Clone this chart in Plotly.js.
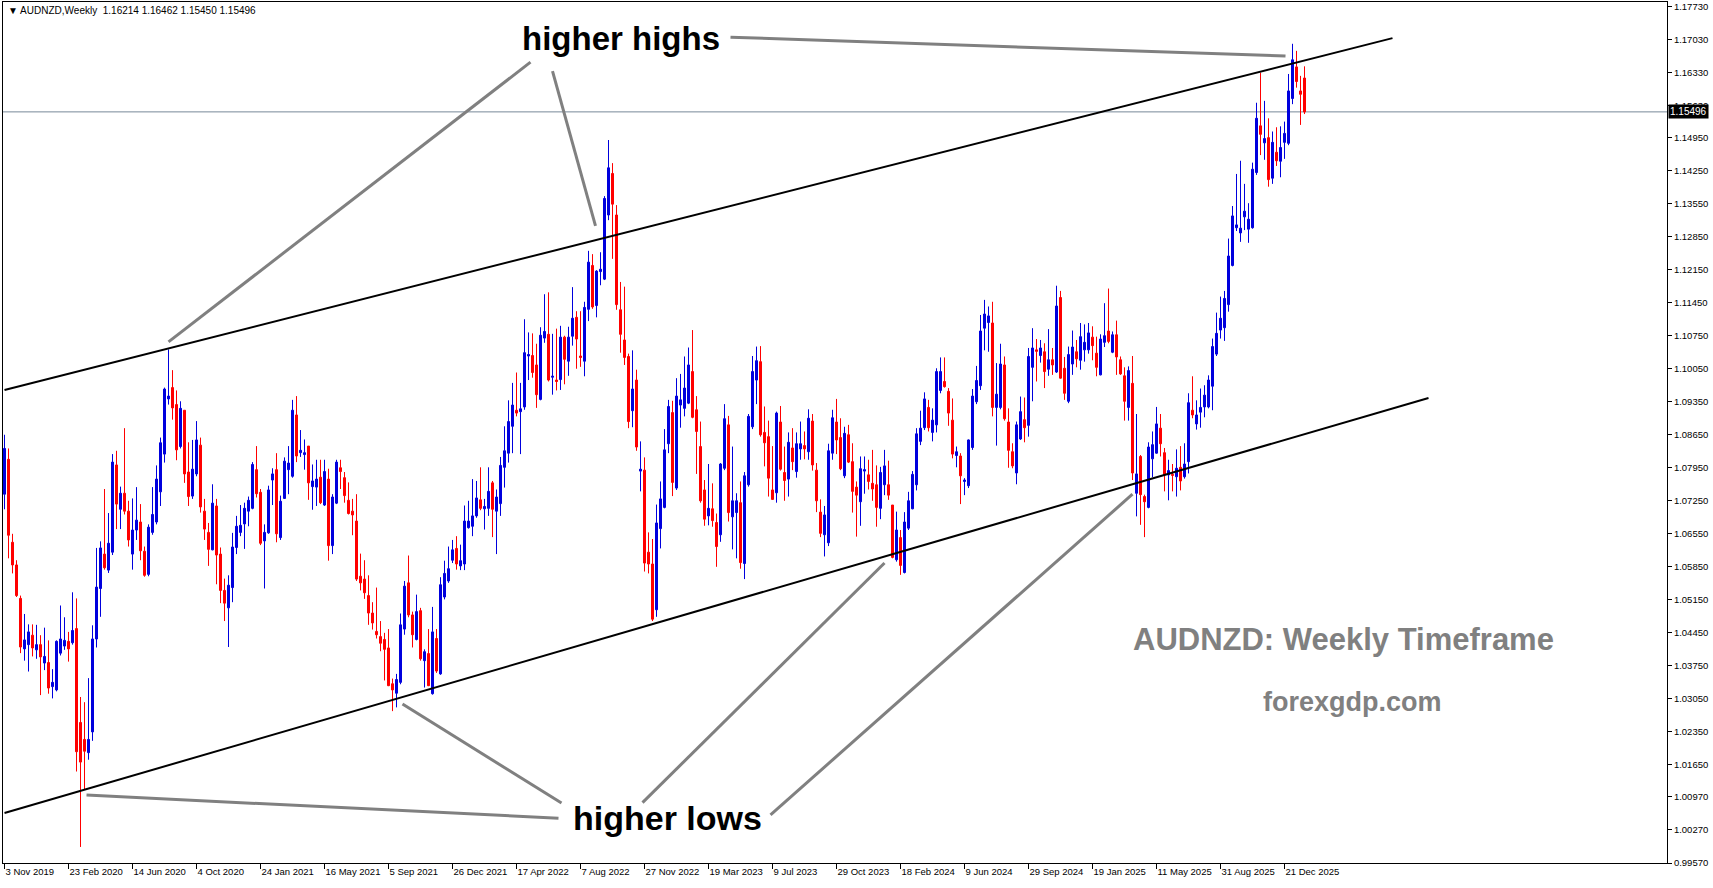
<!DOCTYPE html>
<html>
<head>
<meta charset="utf-8">
<script src="https://cdn.plot.ly/plotly-3.0.1.min.js"></script>
<style>
html,body{margin:0;padding:0;background:#ffffff;overflow:hidden;}
#chart{width:1713px;height:888px;}
</style>
</head>
<body>
<div id="chart"></div>
<script>
// ---- Weekly AUDNZD candles, first bar = week of 3 Nov 2019 ----
const openP = [
1.0739,1.0813,1.0637,1.0589,1.0518,1.0411,1.0420,1.0440,1.0409,1.0420,
1.0381,1.0382,1.0331,1.0324,1.0402,1.0417,1.0427,1.0424,1.0454,1.0255,
1.0219,1.0191,1.0235,1.0432,1.0539,1.0612,1.0578,1.0616,1.0801,1.0707,
1.0741,1.0703,1.0612,1.0663,1.0680,1.0618,1.0569,1.0658,1.0680,1.0744,
1.0824,1.0941,1.0965,1.0929,1.0840,1.0917,1.0786,1.0735,1.0782,1.0843,
1.0703,1.0658,1.0621,1.0714,1.0612,1.0535,1.0498,1.0541,1.0626,1.0658,
1.0676,1.0703,1.0709,1.0791,1.0743,1.0640,1.0657,1.0769,1.0791,1.0647,
1.0730,1.0791,1.0777,1.0907,1.0827,1.0823,1.0841,1.0755,1.0754,1.0775,
1.0716,1.0771,1.0630,1.0720,1.0795,1.0774,1.0726,1.0703,1.0682,1.0565,
1.0559,1.0524,1.0487,1.0448,1.0437,1.0431,1.0413,1.0337,1.0317,1.0340,
1.0453,1.0551,1.0483,1.0431,1.0492,1.0386,1.0401,1.0316,1.0433,1.0358,
1.0521,1.0555,1.0599,1.0624,1.0587,1.0591,1.0668,1.0671,1.0693,1.0727,
1.0708,1.0709,1.0763,1.0703,1.0719,1.0796,1.0826,1.0883,1.0917,1.0914,
1.0924,1.1032,1.1033,1.1013,1.0940,1.1070,1.1078,1.0987,1.0981,1.0982,
1.1072,1.1021,1.1074,1.1114,1.1032,1.1021,1.1131,1.1224,1.1139,1.1211,
1.1195,1.1331,1.1419,1.1331,1.1130,1.1066,1.1031,1.0916,1.0981,1.0788,
1.0790,1.0616,1.0591,1.0494,1.0666,1.0711,1.0846,1.0912,1.0752,1.0928,
1.0921,1.0932,1.0999,1.0918,1.0840,1.0748,1.0693,1.0708,1.0679,1.0653,
1.0794,1.0886,1.0691,1.0700,1.0721,1.0592,1.0759,1.0882,1.0981,1.1020,
1.0870,1.0861,1.0748,1.0742,1.0892,1.0785,1.0771,1.0837,1.0787,1.0835,
1.0842,1.0829,1.0894,1.0790,1.0701,1.0653,1.0636,1.0826,1.0892,1.0859,
1.0778,1.0865,1.0808,1.0754,1.0723,1.0788,1.0780,1.0762,1.0759,1.0709,
1.0759,1.0759,1.0716,1.0600,1.0647,1.0573,1.0667,1.0708,1.0759,1.0851,
1.0880,1.0923,1.0870,1.0886,1.0959,1.0978,1.0957,1.0896,1.0821,1.0820,
1.0766,1.0757,1.0838,1.0935,1.0969,1.1091,1.1103,1.1102,1.0923,1.0923,
1.1013,1.0892,1.0829,1.0784,1.0856,1.0897,1.0885,1.1008,1.1045,1.1033,
1.1041,1.1004,1.1024,1.0998,1.1156,1.1006,1.0936,1.1015,1.1041,1.1023,
1.1045,1.1045,1.1072,1.1038,1.0992,1.1061,1.1085,1.1040,1.1077,1.1024,
1.0990,1.0923,1.0974,1.0741,1.0819,1.0734,1.0711,1.0814,1.0826,1.0879,
1.0827,1.0780,1.0781,1.0776,1.0796,1.0776,1.0808,1.0917,1.0888,1.0913,
1.0924,1.0924,1.0968,1.1036,1.1087,1.1092,1.1141,1.1224,1.1304,1.1293,
1.1327,1.1301,1.1304,1.1421,1.1520,1.1484,1.1495,1.1409,1.1464,1.1445,
1.1485,1.1483,1.1578,1.1645,1.1594,1.16214];

const highP = [
1.0865,1.0836,1.0655,1.0599,1.0524,1.0485,1.0463,1.0463,1.0462,1.0440,
1.0456,1.0429,1.0368,1.0429,1.0503,1.0478,1.0447,1.0531,1.0518,1.0309,
1.0298,1.0349,1.0461,1.0625,1.0639,1.0750,1.0699,1.0824,1.0831,1.0755,
1.0879,1.0725,1.0730,1.0754,1.0718,1.0628,1.0675,1.0754,1.0800,1.0859,
1.0965,1.1046,1.1002,1.0959,1.0936,1.0917,1.0849,1.0854,1.0894,1.0859,
1.0729,1.0678,1.0760,1.0729,1.0626,1.0560,1.0567,1.0657,1.0693,1.0716,
1.0721,1.0734,1.0807,1.0841,1.0750,1.0675,1.0757,1.0794,1.0826,1.0736,
1.0817,1.0841,1.0939,1.0947,1.0875,1.0855,1.0841,1.0802,1.0812,1.0812,
1.0812,1.0793,1.0739,1.0812,1.0812,1.0786,1.0764,1.0729,1.0739,1.0613,
1.0599,1.0567,1.0510,1.0541,1.0470,1.0445,1.0453,1.0348,1.0358,1.0486,
1.0555,1.0609,1.0490,1.0526,1.0498,1.0410,1.0453,1.0500,1.0453,1.0563,
1.0598,1.0628,1.0642,1.0650,1.0632,1.0715,1.0725,1.0771,1.0767,1.0796,
1.0729,1.0796,1.0767,1.0749,1.0818,1.0883,1.0938,1.0975,1.0997,1.0975,
1.1110,1.1082,1.1080,1.1058,1.1093,1.1163,1.1167,1.1079,1.1090,1.1096,
1.1075,1.1094,1.1178,1.1127,1.1127,1.1147,1.1255,1.1248,1.1214,1.1252,
1.1371,1.1490,1.1441,1.1352,1.1189,1.1179,1.1037,1.1044,1.1003,1.0851,
1.0817,1.0658,1.0644,1.0717,1.0766,1.0877,1.0939,1.0937,1.0985,1.0994,
1.1031,1.1050,1.1087,1.0947,1.0893,1.0769,1.0803,1.0762,1.0698,1.0805,
1.0930,1.0905,1.0840,1.0741,1.0766,1.0786,1.0909,1.1032,1.1052,1.1053,
1.0925,1.0895,1.0841,1.0914,1.0926,1.0840,1.0870,1.0879,1.0870,1.0893,
1.0872,1.0919,1.0909,1.0805,1.0728,1.0714,1.0846,1.0918,1.0941,1.0900,
1.0882,1.0886,1.0847,1.0766,1.0819,1.0819,1.0812,1.0833,1.0800,1.0797,
1.0833,1.0810,1.0716,1.0702,1.0663,1.0701,1.0744,1.0788,1.0879,1.0916,
1.0955,1.0939,1.0921,1.1006,1.1029,1.1029,1.0964,1.0942,1.0840,1.0826,
1.0773,1.0855,1.0962,1.1011,1.1119,1.1151,1.1137,1.1147,1.1017,1.1058,
1.1031,1.0921,1.0847,1.0893,1.0946,1.0944,1.1049,1.1091,1.1068,1.1066,
1.1059,1.1089,1.1049,1.1181,1.1170,1.1030,1.1052,1.1086,1.1066,1.1102,
1.1099,1.1102,1.1095,1.1073,1.1078,1.1144,1.1175,1.1084,1.1107,1.1031,
1.1008,1.1010,1.1032,1.0909,1.0822,1.0738,1.0849,1.0872,1.0924,1.0909,
1.0837,1.0812,1.0803,1.0834,1.0841,1.0847,1.0953,1.0989,1.0938,1.0963,
1.0970,1.0991,1.1069,1.1124,1.1158,1.1170,1.1281,1.1350,1.1418,1.1446,
1.1397,1.1356,1.1442,1.1569,1.1633,1.1573,1.1536,1.1508,1.1517,1.1519,
1.1529,1.1630,1.1694,1.1679,1.1626,1.16462];

const lowP = [
1.0707,1.0603,1.0571,1.0521,1.0402,1.0386,1.0363,1.0395,1.0390,1.0313,
1.0366,1.0316,1.0306,1.0321,1.0397,1.0409,1.0384,1.0420,1.0151,0.9991,
1.0112,1.0176,1.0216,1.0414,1.0479,1.0579,1.0572,1.0610,1.0665,1.0665,
1.0696,1.0628,1.0579,1.0642,1.0599,1.0564,1.0565,1.0653,1.0675,1.0714,
1.0806,1.0929,1.0897,1.0811,1.0836,1.0763,1.0714,1.0729,1.0777,1.0700,
1.0642,1.0587,1.0620,1.0548,1.0508,1.0470,1.0415,1.0510,1.0612,1.0650,
1.0623,1.0671,1.0707,1.0732,1.0631,1.0539,1.0655,1.0716,1.0637,1.0642,
1.0729,1.0739,1.0774,1.0807,1.0818,1.0791,1.0727,1.0706,1.0714,1.0718,
1.0714,1.0598,1.0612,1.0718,1.0750,1.0721,1.0696,1.0652,1.0555,1.0535,
1.0517,1.0462,1.0452,1.0433,1.0406,1.0344,1.0332,1.0279,1.0287,1.0336,
1.0441,1.0478,1.0414,1.0429,1.0386,1.0329,1.0332,1.0314,1.0360,1.0356,
1.0516,1.0551,1.0593,1.0579,1.0578,1.0578,1.0666,1.0650,1.0689,1.0705,
1.0664,1.0693,1.0648,1.0612,1.0693,1.0753,1.0806,1.0826,1.0904,1.0824,
1.0918,1.0981,1.0986,1.0922,1.0938,1.1060,1.0978,1.0950,1.0959,1.0960,
1.0972,1.0990,1.1054,1.1005,1.1009,1.0989,1.1106,1.1132,1.1114,1.1182,
1.1193,1.1320,1.1238,1.1130,1.1039,1.1013,1.0879,1.0881,1.0831,1.0745,
1.0575,1.0571,1.0470,1.0479,1.0624,1.0709,1.0826,1.0735,1.0748,1.0880,
1.0904,1.0930,1.0900,1.0782,1.0721,1.0672,1.0673,1.0670,1.0585,1.0638,
1.0790,1.0681,1.0622,1.0603,1.0581,1.0559,1.0755,1.0877,1.0930,1.0861,
1.0798,1.0734,1.0727,1.0721,1.0789,1.0725,1.0734,1.0790,1.0774,1.0812,
1.0813,1.0812,1.0789,1.0701,1.0648,1.0607,1.0629,1.0812,1.0824,1.0790,
1.0773,1.0805,1.0700,1.0649,1.0672,1.0740,1.0749,1.0725,1.0670,1.0686,
1.0737,1.0727,1.0603,1.0596,1.0568,1.0571,1.0663,1.0707,1.0747,1.0843,
1.0875,1.0872,1.0851,1.0870,1.0953,1.0965,1.0884,1.0815,1.0796,1.0718,
1.0737,1.0752,1.0833,1.0930,1.0960,1.1044,1.1041,1.0904,1.0842,1.0919,
1.0895,1.0795,1.0794,1.0760,1.0854,1.0849,1.0861,1.0936,1.0978,1.1018,
1.0964,1.0990,1.0992,1.0996,1.0984,1.0939,1.0932,1.0992,1.1008,1.1003,
1.1020,1.1037,1.1023,1.0989,1.0991,1.1051,1.1059,1.1038,1.0992,1.0992,
1.0895,1.0895,1.0769,1.0692,1.0674,1.0648,1.0709,1.0775,1.0825,1.0819,
1.0745,1.0726,1.0745,1.0734,1.0747,1.0772,1.0783,1.0900,1.0876,1.0880,
1.0902,1.0921,1.0917,1.1032,1.1069,1.1064,1.1126,1.1222,1.1297,1.1274,
1.1299,1.1272,1.1302,1.1416,1.1458,1.1448,1.1391,1.1397,1.1435,1.1411,
1.1450,1.1479,1.1566,1.1601,1.1522,1.15450];

const closeP = [
1.0836,1.0652,1.0589,1.0524,1.0415,1.0430,1.0447,1.0413,1.0420,1.0394,
1.0395,1.0328,1.0340,1.0427,1.0432,1.0429,1.0411,1.0450,1.0193,1.0171,
1.0194,1.0219,1.0432,1.0542,1.0625,1.0583,1.0635,1.0807,1.0718,1.0741,
1.0703,1.0642,1.0663,1.0684,1.0619,1.0567,1.0669,1.0696,1.0771,1.0848,
1.0962,1.0947,1.0922,1.0833,1.0921,1.0782,1.0734,1.0792,1.0854,1.0712,
1.0665,1.0622,1.0720,1.0610,1.0535,1.0508,1.0546,1.0627,1.0671,1.0673,
1.0709,1.0726,1.0802,1.0740,1.0635,1.0658,1.0748,1.0782,1.0655,1.0724,
1.0809,1.0805,1.0917,1.0820,1.0832,1.0827,1.0763,1.0767,1.0771,1.0721,
1.0787,1.0630,1.0733,1.0807,1.0787,1.0736,1.0698,1.0695,1.0559,1.0551,
1.0530,1.0487,1.0466,1.0441,1.0423,1.0410,1.0333,1.0324,1.0346,1.0462,
1.0544,1.0483,1.0441,1.0490,1.0390,1.0405,1.0333,1.0447,1.0364,1.0547,
1.0571,1.0581,1.0621,1.0591,1.0598,1.0682,1.0682,1.0693,1.0731,1.0709,
1.0713,1.0745,1.0707,1.0733,1.0800,1.0831,1.0893,1.0928,1.0911,1.0920,
1.1039,1.1035,1.0997,1.0950,1.1076,1.1084,1.0981,1.0989,1.0978,1.1072,
1.1025,1.1072,1.1112,1.1068,1.1029,1.1135,1.1231,1.1136,1.1212,1.1216,
1.1366,1.1431,1.1354,1.1141,1.1078,1.1029,1.0893,1.0962,1.0839,1.0792,
1.0593,1.0591,1.0474,1.0678,1.0729,1.0833,1.0925,1.0764,1.0947,1.0939,
1.0964,1.1013,1.0902,1.0872,1.0725,1.0686,1.0709,1.0683,1.0628,1.0803,
1.0899,1.0700,1.0725,1.0725,1.0594,1.0778,1.0904,1.0999,1.1022,1.0865,
1.0848,1.0773,1.0728,1.0911,1.0792,1.0768,1.0849,1.0808,1.0846,1.0846,
1.0835,1.0900,1.0801,1.0725,1.0656,1.0695,1.0831,1.0901,1.0854,1.0793,
1.0868,1.0807,1.0745,1.0737,1.0793,1.0791,1.0766,1.0750,1.0711,1.0785,
1.0799,1.0737,1.0605,1.0663,1.0588,1.0680,1.0725,1.0781,1.0867,1.0879,
1.0941,1.0880,1.0896,1.0999,1.0999,1.0967,1.0911,1.0824,1.0829,1.0778,
1.0769,1.0854,1.0947,1.0980,1.1085,1.1121,1.1117,1.0923,1.0951,1.1015,
1.0899,1.0832,1.0799,1.0886,1.0914,1.0880,1.1031,1.1049,1.1042,1.1049,
1.0999,1.1024,1.1013,1.1138,1.0985,1.0953,1.1035,1.1051,1.1026,1.1073,
1.1061,1.1081,1.1054,1.1008,1.1068,1.1075,1.1063,1.1077,1.1030,1.0994,
1.0936,1.1001,1.0784,1.0782,1.0738,1.0723,1.0839,1.0844,1.0888,1.0846,
1.0780,1.0789,1.0779,1.0794,1.0767,1.0803,1.0933,1.0907,1.0907,1.0923,
1.0949,1.0981,1.1052,1.1080,1.1112,1.1154,1.1244,1.1329,1.1310,1.1303,
1.1339,1.1322,1.1428,1.1536,1.1502,1.1493,1.1406,1.1485,1.1446,1.1474,
1.1504,1.1594,1.1660,1.1614,1.1587,1.15496];

// date labels on the time axis, one every 16 weekly bars
const xTickLabels = ["3 Nov 2019","23 Feb 2020","14 Jun 2020","4 Oct 2020","24 Jan 2021",
  "16 May 2021","5 Sep 2021","26 Dec 2021","17 Apr 2022","7 Aug 2022","27 Nov 2022",
  "19 Mar 2023","9 Jul 2023","29 Oct 2023","18 Feb 2024","9 Jun 2024","29 Sep 2024",
  "19 Jan 2025","11 May 2025","31 Aug 2025","21 Dec 2025"];
const barsPerXTick = 16;

// price scale labels
const yTickValues = [1.1773,1.1703,1.1633,1.1563,1.1495,1.1425,1.1355,1.1285,1.1215,1.1145,
  1.1075,1.1005,1.0935,1.0865,1.0795,1.0725,1.0655,1.0585,1.0515,1.0445,1.0375,1.0305,
  1.0235,1.0165,1.0097,1.0027,0.9957];

const symbolName = "AUDNZD,Weekly";
const lastPrice = 1.15496;

// channel lines: [barIndex, price] pairs
const upperChannel = [[0, 1.0960], [347, 1.1706]];
const lowerChannel = [[0, 1.0063], [356, 1.0943]];

// grey callout lines
const highsCallouts = [
  [[181.5, 1.1708], [320.25, 1.1668]],
  [[131.5, 1.1655], [41, 1.1062]],
  [[137, 1.1636], [147.75, 1.1308]]
];
const lowsCallouts = [
  [[138.5, 1.0052], [20.5, 1.0101]],
  [[139.25, 1.0084], [99.5, 1.0294]],
  [[159.5, 1.0085], [220, 1.0593]],
  [[191.5, 1.0059], [282, 1.0739]]
];

// text labels: [barIndex, price]
const highsLabelPos = [154, 1.1706];
const lowsLabelPos = [165.75, 1.0052];
const titleLabelPos = [334.75, 1.0430];
const siteLabelPos = [337, 1.0298];

// ---------------------------------------------------------------
const barIndex = openP.map((_, i) => i);
const xTickVals = xTickLabels.map((_, k) => k * barsPerXTick);
const yTickText = yTickValues.map(v => v.toFixed(5));
const axisFont = {family: "Liberation Sans, Arial, sans-serif", size: 9.5, color: "#000000"};
const bullColor = "#0000dd";
const bearColor = "#ff0000";

const candles = {
  type: "candlestick",
  x: barIndex,
  open: openP, high: highP, low: lowP, close: closeP,
  increasing: {line: {color: bullColor, width: 1}, fillcolor: bullColor},
  decreasing: {line: {color: bearColor, width: 1}, fillcolor: bearColor},
  whiskerwidth: 0,
  hoverinfo: "skip",
  showlegend: false
};

function seg(p, color, width) {
  return {type: "line", xref: "x", yref: "y", x0: p[0][0], y0: p[0][1], x1: p[1][0], y1: p[1][1],
          line: {color: color, width: width}, layer: "above"};
}

const shapes = [
  {type: "line", xref: "paper", yref: "y", x0: 0, x1: 1, y0: lastPrice, y1: lastPrice,
   line: {color: "#778899", width: 1}, layer: "below"},
  seg(upperChannel, "#000000", 2),
  seg(lowerChannel, "#000000", 2)
];
highsCallouts.forEach(c => shapes.push(seg(c, "#808080", 3)));
lowsCallouts.forEach(c => shapes.push(seg(c, "#808080", 3)));

const n = closeP.length - 1;
const headerText = "▼ " + symbolName + "  " + openP[n].toFixed(5) + " " + highP[n].toFixed(5) + " " +
                   lowP[n].toFixed(5) + " " + closeP[n].toFixed(5);

const annotations = [
  {xref: "paper", yref: "paper", x: 0, y: 1, xanchor: "left", yanchor: "top", xshift: 3, yshift: -1,
   text: headerText, showarrow: false, font: {family: "Liberation Sans, Arial, sans-serif", size: 10, color: "#000000"}},
  {xref: "paper", yref: "y", x: 1, y: lastPrice, xanchor: "left", yanchor: "middle", xshift: 1,
   text: lastPrice.toFixed(5), showarrow: false, bgcolor: "#000000", borderpad: 1,
   font: {family: "Liberation Sans, Arial, sans-serif", size: 10, color: "#ffffff"}},
  {xref: "x", yref: "y", x: highsLabelPos[0], y: highsLabelPos[1], text: "<b>higher highs</b>",
   showarrow: false, font: {family: "Liberation Sans, Arial, sans-serif", size: 33, color: "#000000"}},
  {xref: "x", yref: "y", x: lowsLabelPos[0], y: lowsLabelPos[1], text: "<b>higher lows</b>",
   showarrow: false, font: {family: "Liberation Sans, Arial, sans-serif", size: 34, color: "#000000"}},
  {xref: "x", yref: "y", x: titleLabelPos[0], y: titleLabelPos[1], text: "<b>AUDNZD: Weekly Timeframe</b>",
   showarrow: false, font: {family: "Liberation Sans, Arial, sans-serif", size: 31, color: "#808080"}},
  {xref: "x", yref: "y", x: siteLabelPos[0], y: siteLabelPos[1], text: "<b>forexgdp.com</b>",
   showarrow: false, font: {family: "Liberation Sans, Arial, sans-serif", size: 27, color: "#808080"}}
];

const layout = {
  width: 1713, height: 888,
  margin: {l: 3, r: 46, t: 2, b: 25, pad: 0},
  paper_bgcolor: "#ffffff", plot_bgcolor: "#ffffff",
  showlegend: false,
  boxgap: 0.5, boxgroupgap: 0,
  xaxis: {
    range: [-0.375, 415.625], fixedrange: true,
    showgrid: false, zeroline: false,
    showline: true, linecolor: "#000000", linewidth: 1, mirror: true,
    tickmode: "array", tickvals: xTickVals, ticktext: xTickLabels,
    ticks: "outside", ticklen: 5, tickwidth: 1, tickcolor: "#000000",
    ticklabelposition: "outside right", tickangle: 0,
    tickfont: axisFont,
    rangeslider: {visible: false}
  },
  yaxis: {
    side: "right", range: [0.9957, 1.17826], fixedrange: true,
    showgrid: false, zeroline: false,
    showline: true, linecolor: "#000000", linewidth: 1, mirror: true,
    tickmode: "array", tickvals: yTickValues, ticktext: yTickText,
    ticks: "outside", ticklen: 4, tickwidth: 1, tickcolor: "#000000",
    tickfont: axisFont
  },
  shapes: shapes,
  annotations: annotations
};

Plotly.newPlot("chart", [candles], layout, {staticPlot: true, displayModeBar: false});
</script>
</body>
</html>
